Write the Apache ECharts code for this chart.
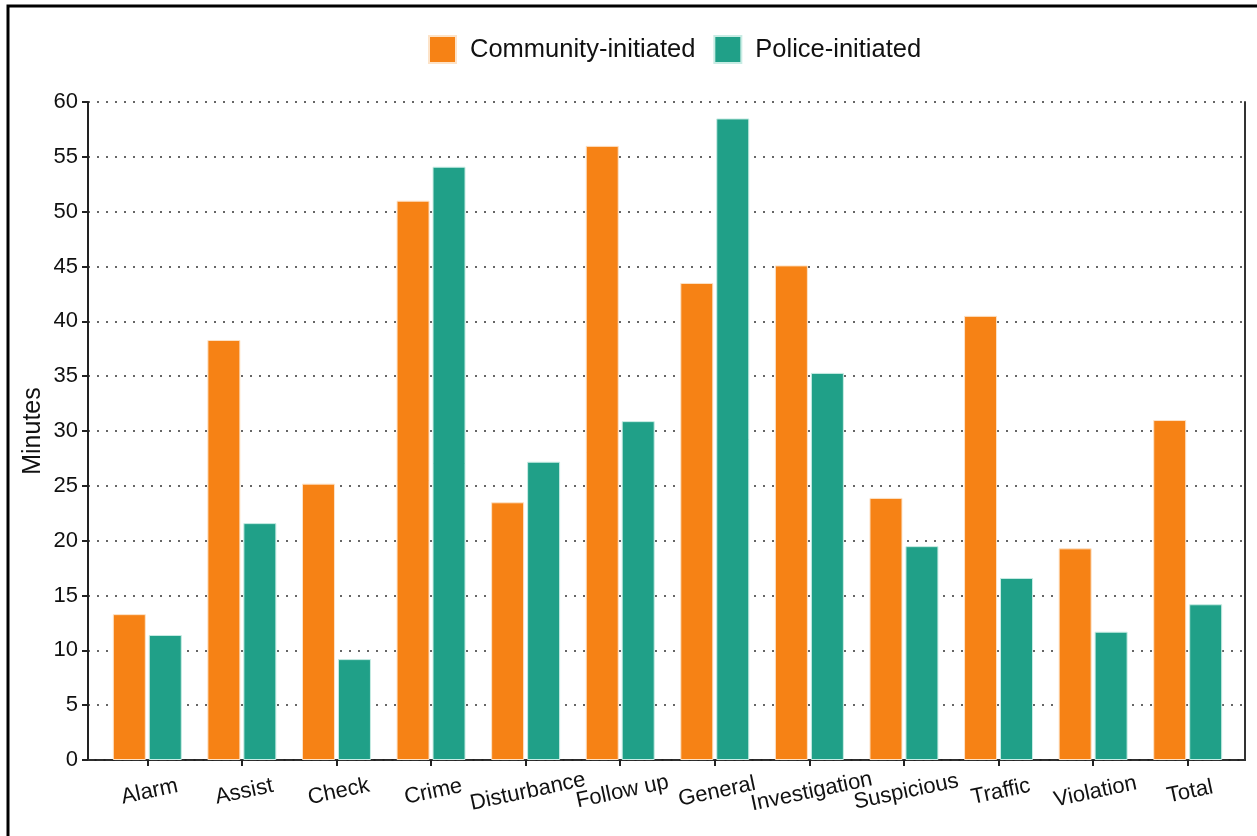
<!DOCTYPE html>
<html>
<head>
<meta charset="utf-8">
<script src="https://cdn.jsdelivr.net/npm/echarts@6/dist/echarts.min.js"></script>
<style>
  html, body { margin: 0; padding: 0; background: #fff; }
  #chart { width: 1257px; height: 836px; }
</style>
</head>
<body>
<div id="chart"></div>
<script>
const categories = ["Alarm", "Assist", "Check", "Crime", "Disturbance", "Follow up",
  "General", "Investigation", "Suspicious", "Traffic", "Violation", "Total"];
const community = [13.3, 38.3, 25.2, 51.0, 23.5, 56.0, 43.5, 45.1, 23.9, 40.5, 19.3, 31.0];
const police = [11.4, 21.6, 9.2, 54.1, 27.2, 30.9, 58.5, 35.3, 19.5, 16.6, 11.7, 14.2];
const yTicks = {min: 0, max: 60, interval: 5};

const colors = ["#F68215", "#20A088"];
const font = "Liberation Sans, Arial, sans-serif";

const chart = echarts.init(document.getElementById("chart"));

// grid 0 carries the frame (axes, gridlines); grid 1 is a bit narrower and holds the bars
chart.setOption({
  animation: false,
  textStyle: {fontFamily: font},
  graphic: [{
    type: "rect",
    shape: {x: 8, y: 6, width: 1400, height: 1000},
    style: {fill: "none", stroke: "#000", lineWidth: 3}
  }],
  legend: {
    data: ["Community-initiated", "Police-initiated"],
    top: 30,
    left: 423,
    icon: "rect",
    itemWidth: 27,
    itemHeight: 27,
    itemGap: 18,
    textStyle: {fontSize: 25.5, color: "#111", fontFamily: font, padding: [0, 0, 0, 9]}
  },
  grid: [
    {left: 88, right: 12, top: 102, bottom: 76},
    {left: 100, right: 22, top: 102, bottom: 76}
  ],
  xAxis: [{
    gridIndex: 0,
    type: "category",
    data: categories,
    axisLine: {lineStyle: {color: "#222", width: 2}},
    axisTick: {show: false},
    axisLabel: {show: false}
  }, {
    gridIndex: 0,
    type: "category",
    position: "top",
    data: categories,
    axisLine: {lineStyle: {color: "#333", width: 1.5, type: [6, 3]}},
    axisTick: {show: false},
    axisLabel: {show: false}
  }, {
    gridIndex: 1,
    type: "category",
    data: categories,
    axisLine: {show: false},
    axisTick: {show: true, alignWithLabel: true, length: 6, lineStyle: {color: "#222", width: 2}},
    axisLabel: {
      rotate: 12, align: "center", verticalAlign: "top", margin: 21,
      fontSize: 22, color: "#111", fontFamily: font, interval: 0
    }
  }],
  yAxis: [{
    gridIndex: 0,
    type: "value",
    min: yTicks.min,
    max: yTicks.max,
    interval: yTicks.interval,
    name: "Minutes",
    nameLocation: "middle",
    nameGap: 42,
    nameMoveOverlap: false,
    nameTextStyle: {fontSize: 25, color: "#111", fontFamily: font},
    axisLine: {show: true, lineStyle: {color: "#222", width: 2}},
    axisTick: {show: true, length: 6, lineStyle: {color: "#222", width: 2}},
    axisLabel: {fontSize: 22, color: "#111", fontFamily: font, margin: 10},
    splitLine: {show: true, lineStyle: {color: "#666", width: 2, type: [2, 7]}}
  }, {
    gridIndex: 0,
    type: "value",
    position: "right",
    min: yTicks.min,
    max: yTicks.max,
    interval: yTicks.interval,
    axisLine: {show: true, lineStyle: {color: "#333", width: 2}},
    axisTick: {show: false},
    axisLabel: {show: false},
    splitLine: {show: false}
  }, {
    gridIndex: 1,
    type: "value",
    min: yTicks.min,
    max: yTicks.max,
    interval: yTicks.interval,
    show: false
  }],
  series: [{
    name: "Community-initiated",
    type: "bar",
    xAxisIndex: 2,
    yAxisIndex: 2,
    data: community,
    barWidth: 33,
    barGap: "9%",
    itemStyle: {color: colors[0], borderColor: "#fde3c8", borderWidth: 1}
  }, {
    name: "Police-initiated",
    type: "bar",
    xAxisIndex: 2,
    yAxisIndex: 2,
    data: police,
    barWidth: 33,
    itemStyle: {color: colors[1], borderColor: "#c8ece4", borderWidth: 1}
  }]
});
</script>
</body>
</html>
